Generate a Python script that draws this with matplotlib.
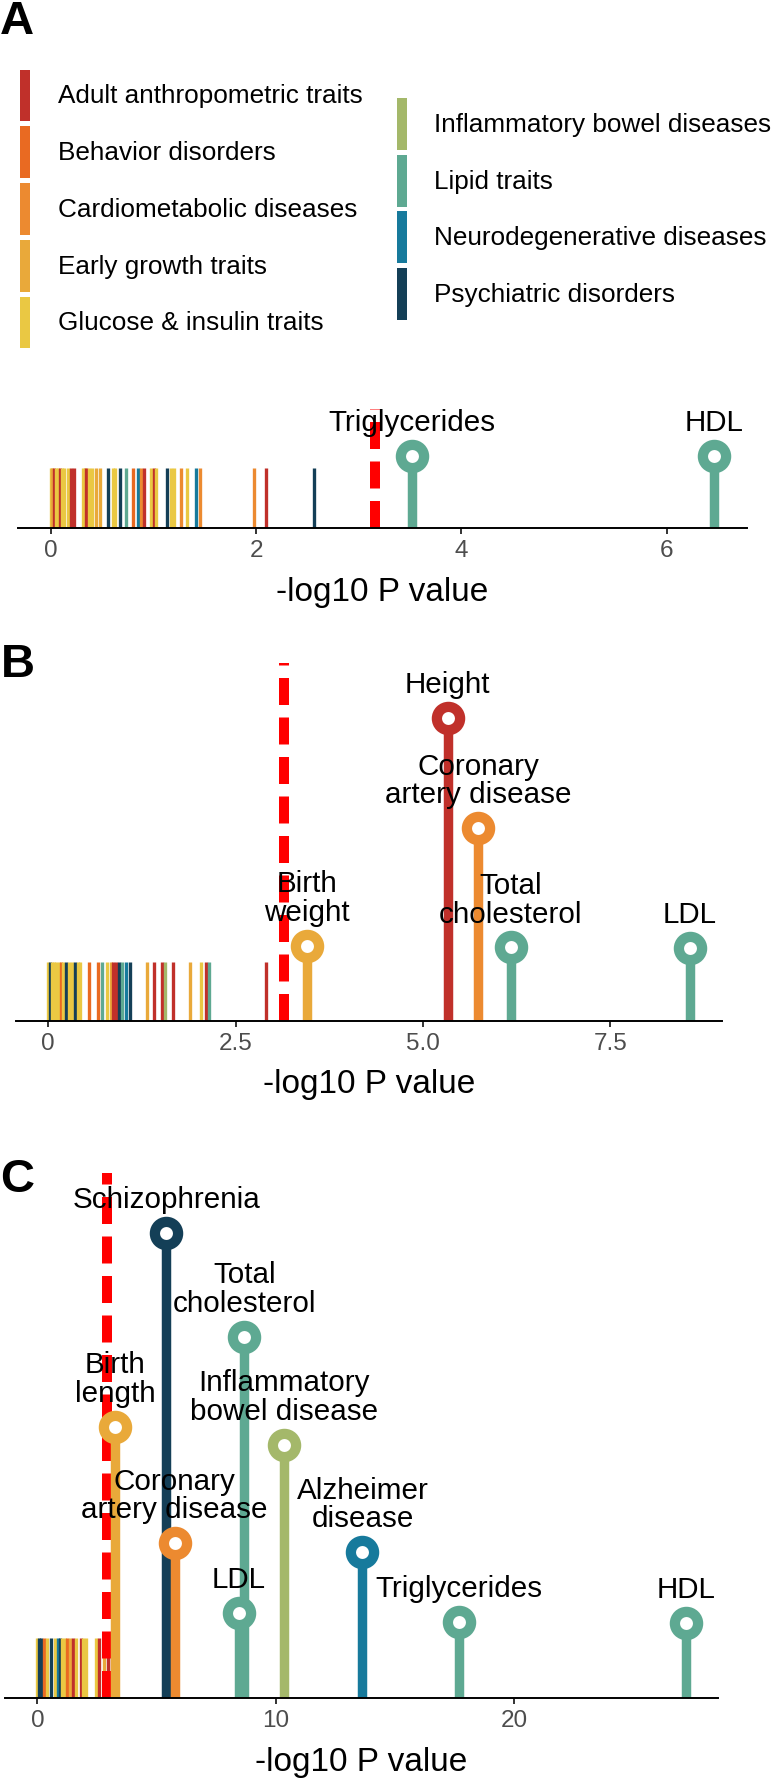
import matplotlib
matplotlib.use("Agg")
import matplotlib.pyplot as plt
from matplotlib.patches import Rectangle

plt.rcParams['font.family'] = ['Liberation Sans', 'DejaVu Sans']

W, H = 773, 1779
DPI = 100

# ---------------- data ----------------
categories = ["Adult anthropometric traits", "Behavior disorders",
              "Cardiometabolic diseases", "Early growth traits",
              "Glucose & insulin traits", "Inflammatory bowel diseases",
              "Lipid traits", "Neurodegenerative diseases", "Psychiatric disorders"]
cat_colors = ["#C0302A", "#E96A22", "#EC8A30", "#E9A93A", "#EAC843",
              "#A4B86A", "#5EA992", "#177A9C", "#143F57"]
# category codes: 0 ADU,1 BEH,2 CAR,3 EAR,4 GLU,5 IBD,6 LIP,7 NEU,8 PSY

# Panel A
a_bar_x = [0.00, 0.01, 0.03, 0.05, 0.07, 0.09, 0.11, 0.13, 0.16, 0.19, 0.22,
           0.31, 0.33, 0.34, 0.37, 0.40, 0.44, 0.48, 0.55, 0.60, 0.62, 0.67,
           0.73, 0.80, 0.85, 0.88, 0.91, 0.97, 1.00, 1.02, 1.13, 1.17, 1.20,
           1.27, 1.32, 1.41, 1.45, 1.98, 2.09, 2.56]
a_bar_cat = [4, 3, 0, 4, 4, 0, 4, 4, 4, 0, 0,
             4, 4, 0, 4, 4, 3, 3, 8, 4, 4, 8,
             6, 1, 7, 2, 0, 4, 0, 4, 8, 4, 4,
             2, 4, 7, 2, 2, 0, 8]
a_sig_names = ["Triglycerides", "HDL"]
a_sig_x = [3.52, 6.46]
a_sig_cat = [6, 6]
a_sig_h = [1.2, 1.2]
a_threshold = 3.16
a_ytop = 1.98
a_ticks = [0, 2, 4, 6]
a_ticklabels = ["0", "2", "4", "6"]

# Panel B
b_bar_x = [0.00, 0.02, 0.05, 0.08, 0.11, 0.14, 0.17, 0.20, 0.24, 0.28, 0.32,
           0.36, 0.40, 0.42, 0.55, 0.67, 0.72, 0.79, 0.84, 0.87, 0.91, 0.95,
           0.98, 1.04, 1.09, 1.32, 1.41, 1.52, 1.56, 1.66, 1.89, 2.04, 2.10,
           2.14, 2.90]
b_bar_cat = [4, 8, 4, 4, 4, 4, 1, 4, 8, 4, 4,
             8, 4, 4, 1, 1, 6, 4, 3, 0, 0, 8,
             6, 7, 8, 3, 0, 0, 5, 0, 3, 4, 0,
             6, 0]
b_sig_names = ["Birth\nweight", "Height", "Coronary\nartery disease",
               "Total\ncholesterol", "LDL"]
b_sig_x = [3.45, 5.33, 5.74, 6.17, 8.56]
b_sig_cat = [3, 0, 2, 6, 6]
b_sig_h = [1.28, 5.14, 3.27, 1.25, 1.24]
b_threshold = 3.14
b_ytop = 6.07
b_ticks = [0, 2.5, 5.0, 7.5]
b_ticklabels = ["0", "2.5", "5.0", "7.5"]

# Panel C
c_bar_x = [0.00, 0.08, 0.17, 0.28, 0.40, 0.58, 0.72, 0.86, 0.95, 1.05, 1.15,
           1.25, 1.37, 1.48, 1.62, 1.82, 1.92, 2.05, 2.45, 2.58, 2.78, 2.95,
           3.14]
c_bar_cat = [4, 8, 8, 1, 4, 8, 4, 7, 8, 4, 4,
             1, 3, 0, 4, 0, 4, 4, 4, 0, 3, 0,
             0]
c_sig_names = ["Birth\nlength", "Schizophrenia", "Coronary\nartery disease",
               "LDL", "Total\ncholesterol", "Inflammatory\nbowel disease",
               "Alzheimer\ndisease", "Triglycerides", "HDL"]
c_sig_x = [3.27, 5.41, 5.76, 8.44, 8.68, 10.36, 13.64, 17.7, 27.2]
c_sig_cat = [3, 8, 2, 6, 6, 5, 7, 6, 6]
c_sig_h = [4.52, 7.75, 2.58, 1.42, 6.02, 4.22, 2.43, 1.27, 1.25]
c_threshold = 2.93
c_ytop = 8.75
c_ticks = [0, 10, 20]
c_ticklabels = ["0", "10", "20"]

# ---------------- figure ----------------
fig = plt.figure(figsize=(W / DPI, H / DPI), dpi=DPI)


def add_axes_px(left, top, right, bottom):
    return fig.add_axes([left / W, 1 - bottom / H, (right - left) / W, (bottom - top) / H])


def draw_panel(ax, bar_x, bar_cat, names, sx, scat, sh, thr, ytop, ticks, tlabels, hpx):
    xmax = max(max(bar_x), max(sx))
    ax.set_xlim(-0.05 * xmax, 1.05 * xmax)
    ax.set_ylim(0, ytop)
    lc = ax.vlines(bar_x, 0, 1, colors=[cat_colors[c] for c in bar_cat], lw=2.4, zorder=2)
    lc.set_capstyle('butt')
    ax.axvline(thr, color='#FF0000', lw=7.2, linestyle=(0, (2.7, 1.25)),
               dash_capstyle='butt', zorder=3)
    sc = ax.vlines(sx, 0, sh, colors=[cat_colors[c] for c in scat], lw=6.8, zorder=4)
    sc.set_capstyle('butt')
    for x, h, c, name in zip(sx, sh, scat, names):
        ax.plot([x], [h], marker='o', ms=16.7, mew=7.4, mfc='white',
                mec=cat_colors[c], zorder=5, clip_on=False)
        ax.annotate(name, (x, h), xytext=(0, 13.5), textcoords='offset points',
                    ha='center', va='bottom', fontsize=21.3, linespacing=1.03,
                    zorder=6, annotation_clip=False)
    for s in ['top', 'left', 'right']:
        ax.spines[s].set_visible(False)
    ax.spines['bottom'].set_linewidth(1.4)
    ax.spines['bottom'].set_zorder(7)
    ax.set_yticks([])
    ax.set_xticks(ticks, tlabels)
    ax.tick_params(axis='x', length=4.3, width=1.4, color='#333333',
                   labelsize=17.5, labelcolor='#4D4D4D', pad=4)
    ax.set_xlabel('-log10 P value', fontsize=24)
    ax.xaxis.set_label_coords(0.5, -64 / hpx)
    ax.xaxis.label.set_va('center')
    ax.patch.set_visible(False)


axA = add_axes_px(18, 409, 747, 528)
draw_panel(axA, a_bar_x, a_bar_cat, a_sig_names, a_sig_x, a_sig_cat, a_sig_h,
           a_threshold, a_ytop, a_ticks, a_ticklabels, 528 - 409)
axB = add_axes_px(16, 663, 722, 1021)
draw_panel(axB, b_bar_x, b_bar_cat, b_sig_names, b_sig_x, b_sig_cat, b_sig_h,
           b_threshold, b_ytop, b_ticks, b_ticklabels, 1021 - 663)
axC = add_axes_px(5, 1173, 718, 1698)
draw_panel(axC, c_bar_x, c_bar_cat, c_sig_names, c_sig_x, c_sig_cat, c_sig_h,
           c_threshold, c_ytop, c_ticks, c_ticklabels, 1698 - 1173)

# ---------------- legend ----------------
lax = fig.add_axes([0, 0, 1, 1], zorder=-1)
lax.set_xlim(0, W)
lax.set_ylim(H, 0)
lax.axis('off')
row_h = 56.75
leg_center = 209
for i, (lab, col) in enumerate(zip(categories, cat_colors)):
    if i < 5:
        row, n, px, tx = i, 5, 20, 58
    else:
        row, n, px, tx = i - 5, 4, 397, 434
    top = leg_center - n * row_h / 2 + row * row_h
    lax.add_patch(Rectangle((px, top + 2.4), 10, row_h - 4.8, color=col, lw=0))
    lax.text(tx, top + row_h / 2 + 1, lab, fontsize=18.8, va='center', ha='left')

# panel letters
fig.text(0 / W, 1 - 22 / H, "A", fontsize=34, fontweight='bold', va='center', ha='left')
fig.text(1 / W, 1 - 665 / H, "B", fontsize=34, fontweight='bold', va='center', ha='left')
fig.text(0 / W, 1 - 1180 / H, "C", fontsize=34, fontweight='bold', va='center', ha='left')

fig.savefig("out.png", dpi=DPI, facecolor='white')
